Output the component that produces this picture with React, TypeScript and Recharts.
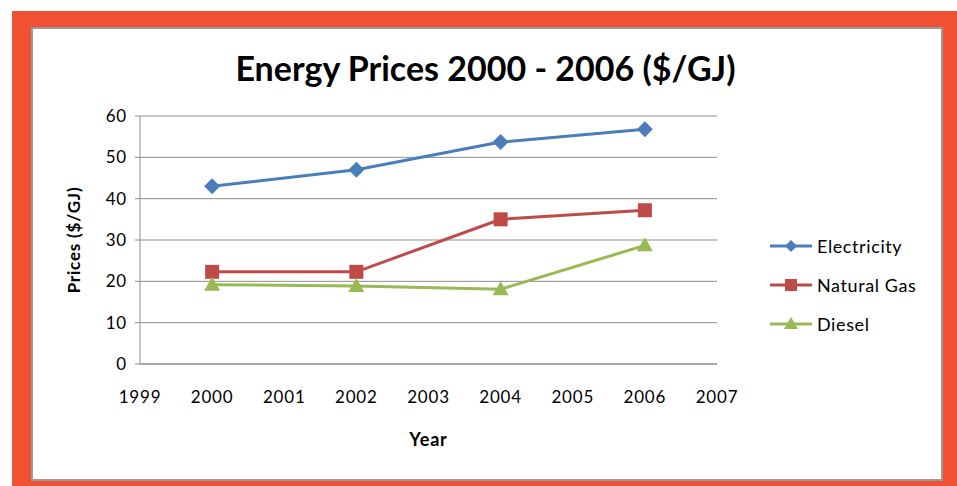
import React from "react";
import {
  LineChart,
  Line,
  XAxis,
  YAxis,
  CartesianGrid,
} from "recharts";

// Energy prices by year ($/GJ)
const years = [2000, 2002, 2004, 2006];
const electricity = [43, 47, 53.7, 56.8];
const naturalGas = [22.3, 22.3, 35, 37.2];
const diesel = [19.2, 18.9, 18.1, 28.7];
const xTicks = [1999, 2000, 2001, 2002, 2003, 2004, 2005, 2006, 2007];
const yTicks = [0, 10, 20, 30, 40, 50, 60];

const data = years.map((year, i) => ({
  year,
  electricity: electricity[i],
  naturalGas: naturalGas[i],
  diesel: diesel[i],
}));

const FONT = "Lato, 'Open Sans', sans-serif";
const BLUE = "#4a7ebb";
const RED = "#be4b48";
const GREEN = "#98b954";

type DotProps = { cx?: number; cy?: number; index?: number };

const Diamond = ({ cx = 0, cy = 0, index }: DotProps) => (
  <path
    key={`d-${index}`}
    d={`M${cx},${cy - 8} L${cx + 8},${cy} L${cx},${cy + 8} L${cx - 8},${cy} Z`}
    fill={BLUE}
  />
);

const Square = ({ cx = 0, cy = 0, index }: DotProps) => (
  <rect key={`s-${index}`} x={cx - 7} y={cy - 7} width={14} height={14} fill={RED} />
);

const Triangle = ({ cx = 0, cy = 0, index }: DotProps) => (
  <path
    key={`t-${index}`}
    d={`M${cx},${cy - 8} L${cx + 8},${cy + 6} L${cx - 8},${cy + 6} Z`}
    fill={GREEN}
  />
);

const legendItems = [
  { name: "Electricity", color: BLUE, shape: "diamond" },
  { name: "Natural Gas", color: RED, shape: "square" },
  { name: "Diesel", color: GREEN, shape: "triangle" },
];

// legend drawn beside the chart so it doesn't shrink the plot
function LegendBox() {
  return (
    <div
      style={{
        position: "absolute",
        left: 768,
        top: 226,
        fontFamily: FONT,
        fontSize: 18,
        letterSpacing: 0.6,
        color: "#000",
      }}
    >
      {legendItems.map((item) => (
        <div key={item.name} style={{ display: "flex", alignItems: "center", height: 39 }}>
          <svg width={46} height={20}>
            <line x1={2} y1={10} x2={44} y2={10} stroke={item.color} strokeWidth={3} />
            {item.shape === "diamond" && <path d="M23,4 L29,10 L23,16 L17,10 Z" fill={item.color} />}
            {item.shape === "square" && <rect x={17} y={4} width={12} height={12} fill={item.color} />}
            {item.shape === "triangle" && <path d="M23,3 L30,15 L16,15 Z" fill={item.color} />}
          </svg>
          <span style={{ marginLeft: 3 }}>{item.name}</span>
        </div>
      ))}
    </div>
  );
}

export default function App() {
  return (
    <div style={{ position: "absolute", left: 0, top: 0, width: 957, height: 486, background: "#fff" }}>
      <div style={{ position: "absolute", left: 12, top: 11, width: 945, height: 475, background: "#f05133" }} />
      <div
        style={{
          position: "absolute",
          left: 31,
          top: 27,
          width: 908,
          height: 450,
          background: "#fff",
          border: "2px solid #9a9a9a",
        }}
      />
      <div
        style={{
          position: "absolute",
          left: 0,
          top: 47,
          width: 957,
          textAlign: "center",
          fontFamily: FONT,
          fontWeight: 700,
          fontSize: 34,
          color: "#000",
          paddingLeft: 14,
          boxSizing: "border-box",
        }}
      >
        Energy Prices 2000 - 2006 ($/GJ)
      </div>
      <div style={{ position: "absolute", left: 0, top: 0 }}>
        <LineChart
          width={957}
          height={486}
          data={data}
          margin={{ top: 116, right: 240, bottom: 92, left: 80 }}
        >
          <CartesianGrid vertical={false} stroke="#8c8c8c" strokeWidth={1} />
          <XAxis
            dataKey="year"
            type="number"
            domain={[1999, 2007]}
            ticks={xTicks}
            tickLine={false}
            axisLine={{ stroke: "#8c8c8c" }}
            tick={{ fill: "#000", fontSize: 17, fontFamily: FONT, letterSpacing: 0.8 }}
            tickMargin={21}
            height={30}
            label={{ value: "Year", position: "insideBottom", offset: -52, fill: "#000", fontSize: 18, fontWeight: 700, fontFamily: FONT, letterSpacing: 0.8 }}
          />
          <YAxis
            domain={[0, 60]}
            ticks={yTicks}
            width={60}
            axisLine={{ stroke: "#8c8c8c" }}
            tickLine={{ stroke: "#8c8c8c" }}
            tickSize={5}
            tick={{ fill: "#000", fontSize: 17, fontFamily: FONT, letterSpacing: 0.8 }}
            tickMargin={8}
            label={{
              value: "Prices ($/GJ)",
              angle: -90,
              position: "insideLeft",
              offset: -6,
              style: { textAnchor: "middle" },
              fill: "#000",
              fontSize: 17,
              fontWeight: 700,
              fontFamily: FONT,
              letterSpacing: 0.8,
            }}
          />
          <Line
            dataKey="electricity"
            name="Electricity"
            stroke={BLUE}
            strokeWidth={3}
            dot={(p: DotProps) => <Diamond {...p} />}
            isAnimationActive={false}
          />
          <Line
            dataKey="naturalGas"
            name="Natural Gas"
            stroke={RED}
            strokeWidth={3}
            dot={(p: DotProps) => <Square {...p} />}
            isAnimationActive={false}
          />
          <Line
            dataKey="diesel"
            name="Diesel"
            stroke={GREEN}
            strokeWidth={3}
            dot={(p: DotProps) => <Triangle {...p} />}
            isAnimationActive={false}
          />
        </LineChart>
      </div>
      <LegendBox />
    </div>
  );
}
